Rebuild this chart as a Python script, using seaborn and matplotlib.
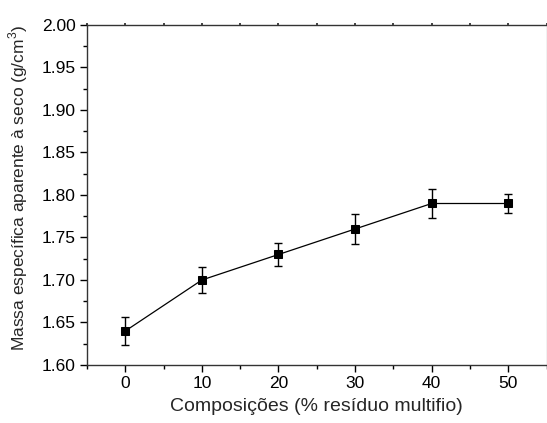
import matplotlib
matplotlib.use("Agg")
import matplotlib.pyplot as plt
from matplotlib.ticker import MultipleLocator
import seaborn as sns
import pandas as pd

# dados
composicao = [0, 10, 20, 30, 40, 50]
massa = [1.640, 1.700, 1.730, 1.760, 1.790, 1.790]
erro = [0.016, 0.015, 0.013, 0.018, 0.017, 0.011]

df = pd.DataFrame({"comp": composicao, "massa": massa, "erro": erro})

sns.set_style("ticks")
plt.rcParams['font.family'] = ['Liberation Sans', 'DejaVu Sans']
plt.rcParams['mathtext.fontset'] = 'custom'
plt.rcParams['mathtext.rm'] = 'Liberation Sans'

fig = plt.figure(figsize=(5.47, 4.23), dpi=100)
ax = fig.add_axes([87 / 547, 58 / 423, 459.5 / 547, 340 / 423])

ax.errorbar(df["comp"], df["massa"], yerr=df["erro"], fmt="none",
            ecolor="black", elinewidth=1, capsize=3, capthick=1, zorder=2)
sns.lineplot(data=df, x="comp", y="massa", ax=ax, color="black", linewidth=0.9,
             marker="s", markersize=5.5, markeredgecolor="black",
             markerfacecolor="black", zorder=3)

ax.set_xlim(-5, 55)
ax.set_ylim(1.60, 2.00)
ax.xaxis.set_major_locator(MultipleLocator(10))
ax.xaxis.set_minor_locator(MultipleLocator(5))
ax.yaxis.set_major_locator(MultipleLocator(0.05))
ax.yaxis.set_minor_locator(MultipleLocator(0.025))
ax.yaxis.set_major_formatter(plt.FormatStrFormatter("%.2f"))

ax.tick_params(which="both", direction="out", labelsize=12.5, colors="black",
               pad=3, top=False, right=False)
ax.tick_params(which="major", length=5, width=1)
ax.tick_params(which="minor", length=3, width=1)

# ticks curtinhos no eixo de cima
topo = ax.secondary_xaxis("top")
topo.xaxis.set_major_locator(MultipleLocator(10))
topo.xaxis.set_minor_locator(MultipleLocator(5))
topo.tick_params(which="both", direction="out", length=1.5, width=1.2,
                 labeltop=False, colors="#222222")
topo.spines["top"].set_visible(False)

for s in ax.spines.values():
    s.set_linewidth(1)
    s.set_color("#333333")
ax.spines["right"].set_color("#bbbbbb")

ax.set_xlabel("Composições (% resíduo multifio)", fontsize=14, labelpad=5)
ax.set_ylabel("Massa específica aparente à seco (g/cm$^3$)", fontsize=12.5)
ax.yaxis.set_label_coords(-0.125, 0.522)

fig.savefig("out.png", dpi=100)
